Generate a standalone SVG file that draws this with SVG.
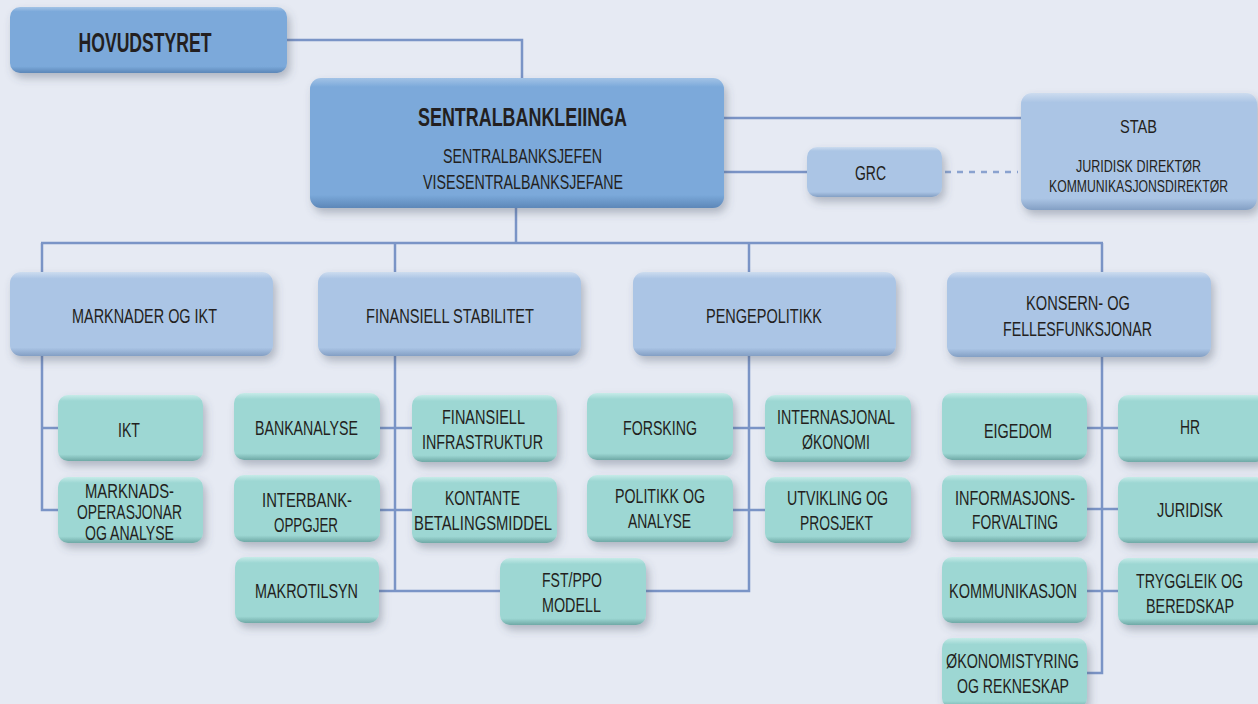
<svg xmlns="http://www.w3.org/2000/svg" width="1258" height="704" viewBox="0 0 1258 704">
<defs>
<linearGradient id="gMb" x1="0" y1="0" x2="0" y2="1">
<stop offset="0" stop-color="#a3c3e6"/><stop offset="0.07" stop-color="#7ba9da"/><stop offset="0.9" stop-color="#7ba9da"/><stop offset="1" stop-color="#5d87b8"/>
</linearGradient>
<linearGradient id="gLb" x1="0" y1="0" x2="0" y2="1">
<stop offset="0" stop-color="#cddcef"/><stop offset="0.08" stop-color="#abc5e5"/><stop offset="0.9" stop-color="#abc5e5"/><stop offset="1" stop-color="#839fc4"/>
</linearGradient>
<linearGradient id="gTl" x1="0" y1="0" x2="0" y2="1">
<stop offset="0" stop-color="#c6ebe8"/><stop offset="0.09" stop-color="#9dd7d3"/><stop offset="0.9" stop-color="#9dd7d3"/><stop offset="1" stop-color="#6fa9a6"/>
</linearGradient>
<filter id="sh" x="-10%" y="-20%" width="125%" height="150%">
<feDropShadow dx="3" dy="5" stdDeviation="4" flood-color="#4a5468" flood-opacity="0.35"/>
</filter>
</defs>
<style>
.mb{fill:url(#gMb);filter:url(#sh)}
.lb{fill:url(#gLb);filter:url(#sh)}
.tl{fill:url(#gTl);filter:url(#sh)}
text{font-family:"Liberation Sans Narrow","Liberation Sans",Arial,sans-serif;fill:#231f20;text-anchor:middle}
.b{font-weight:bold}
.c line,.c polyline{stroke:#7a94c6;stroke-width:2.5;fill:none}
.c .d{stroke:#8aa2cf;stroke-dasharray:6 6}
</style>
<rect width="1258" height="704" fill="#e6eaf3"/>

<g class="c" id="connectors">
<polyline points="287,40 522,40 522,78"/>
<line x1="724" y1="118" x2="1021" y2="118"/>
<line x1="724" y1="172" x2="807" y2="172"/>
<line class="d" x1="945" y1="172" x2="1018" y2="172"/>
<line x1="516" y1="208" x2="516" y2="243"/>
<line x1="41" y1="243" x2="1103" y2="243"/>
<line x1="42" y1="243" x2="42" y2="272"/>
<line x1="395" y1="243" x2="395" y2="272"/>
<line x1="749" y1="243" x2="749" y2="272"/>
<line x1="1102" y1="243" x2="1102" y2="272"/>
<polyline points="42,356 42,510 58,510"/>
<line x1="42" y1="428" x2="58" y2="428"/>
<line x1="395" y1="356" x2="395" y2="591"/>
<line x1="380" y1="428" x2="412" y2="428"/>
<line x1="380" y1="510" x2="412" y2="510"/>
<line x1="379" y1="591" x2="500" y2="591"/>
<polyline points="749,356 749,591 646,591"/>
<line x1="733" y1="428" x2="765" y2="428"/>
<line x1="733" y1="510" x2="765" y2="510"/>
<polyline points="1102,357 1102,673 1087,673"/>
<line x1="1087" y1="428" x2="1118" y2="428"/>
<line x1="1087" y1="509" x2="1118" y2="509"/>
<line x1="1087" y1="591" x2="1118" y2="591"/>
</g>

<g id="hovudstyret"><rect class="mb" x="10" y="7" width="277" height="66" rx="10"/>
<text class="b" x="145" y="52" font-size="27" textLength="133" lengthAdjust="spacingAndGlyphs">HOVUDSTYRET</text></g>

<g id="sentralbankleiinga"><rect class="mb" x="310" y="78" width="414" height="130" rx="11"/>
<text class="b" x="522.5" y="126" font-size="25" textLength="209" lengthAdjust="spacingAndGlyphs">SENTRALBANKLEIINGA</text>
<text x="522.5" y="163" font-size="21" textLength="159" lengthAdjust="spacingAndGlyphs">SENTRALBANKSJEFEN</text>
<text x="523" y="189" font-size="21" textLength="200" lengthAdjust="spacingAndGlyphs">VISESENTRALBANKSJEFANE</text></g>

<g id="grc"><rect class="lb" x="807" y="147" width="135" height="50" rx="10"/>
<text x="870.5" y="180" font-size="20" textLength="31" lengthAdjust="spacingAndGlyphs">GRC</text></g>

<g id="stab"><rect class="lb" x="1021" y="93" width="236" height="117" rx="11"/>
<text x="1138.5" y="133" font-size="19" textLength="37" lengthAdjust="spacingAndGlyphs">STAB</text>
<text x="1138.5" y="172" font-size="16" textLength="125" lengthAdjust="spacingAndGlyphs">JURIDISK DIREKTØR</text>
<text x="1138.5" y="192" font-size="16" textLength="179" lengthAdjust="spacingAndGlyphs">KOMMUNIKASJONSDIREKTØR</text></g>

<g id="marknader"><rect class="lb" x="10" y="272" width="263" height="84" rx="11"/>
<text x="144.5" y="323" font-size="21" textLength="145" lengthAdjust="spacingAndGlyphs">MARKNADER OG IKT</text></g>
<g id="finansiell-stabilitet"><rect class="lb" x="318" y="272" width="263" height="84" rx="11"/>
<text x="450" y="323" font-size="21" textLength="168" lengthAdjust="spacingAndGlyphs">FINANSIELL STABILITET</text></g>
<g id="pengepolitikk"><rect class="lb" x="633" y="272" width="263" height="84" rx="11"/>
<text x="764" y="323" font-size="21" textLength="116" lengthAdjust="spacingAndGlyphs">PENGEPOLITIKK</text></g>
<g id="konsern"><rect class="lb" x="947" y="272" width="264" height="85" rx="11"/>
<text x="1078" y="310" font-size="21" textLength="104" lengthAdjust="spacingAndGlyphs">KONSERN- OG</text>
<text x="1077.5" y="336" font-size="21" textLength="149" lengthAdjust="spacingAndGlyphs">FELLESFUNKSJONAR</text></g>

<g id="ikt"><rect class="tl" x="58" y="395" width="145" height="66" rx="10"/>
<text x="129" y="437" font-size="20" textLength="22" lengthAdjust="spacingAndGlyphs">IKT</text></g>
<g id="marknadsoperasjonar"><rect class="tl" x="58" y="477" width="145" height="66" rx="10"/>
<text x="129.5" y="498" font-size="20" textLength="89" lengthAdjust="spacingAndGlyphs">MARKNADS-</text>
<text x="129.5" y="519" font-size="20" textLength="105" lengthAdjust="spacingAndGlyphs">OPERASJONAR</text>
<text x="129.5" y="540" font-size="20" textLength="89" lengthAdjust="spacingAndGlyphs">OG ANALYSE</text></g>

<g id="bankanalyse"><rect class="tl" x="234" y="393" width="146" height="67" rx="10"/>
<text x="306.5" y="435" font-size="20" textLength="103" lengthAdjust="spacingAndGlyphs">BANKANALYSE</text></g>
<g id="interbank"><rect class="tl" x="234" y="475" width="146" height="67" rx="10"/>
<text x="307" y="507" font-size="20" textLength="90" lengthAdjust="spacingAndGlyphs">INTERBANK-</text>
<text x="306" y="532" font-size="20" textLength="64" lengthAdjust="spacingAndGlyphs">OPPGJER</text></g>
<g id="makrotilsyn"><rect class="tl" x="235" y="557" width="144" height="66" rx="10"/>
<text x="306.5" y="598" font-size="20" textLength="103" lengthAdjust="spacingAndGlyphs">MAKROTILSYN</text></g>
<g id="finansiell-infrastruktur"><rect class="tl" x="412" y="395" width="145" height="67" rx="10"/>
<text x="483.5" y="424" font-size="20" textLength="83" lengthAdjust="spacingAndGlyphs">FINANSIELL</text>
<text x="482.5" y="449" font-size="20" textLength="121" lengthAdjust="spacingAndGlyphs">INFRASTRUKTUR</text></g>
<g id="kontante"><rect class="tl" x="412" y="477" width="145" height="66" rx="10"/>
<text x="482.5" y="505" font-size="20" textLength="75" lengthAdjust="spacingAndGlyphs">KONTANTE</text>
<text x="483" y="530" font-size="20" textLength="138" lengthAdjust="spacingAndGlyphs">BETALINGSMIDDEL</text></g>
<g id="fst-ppo"><rect class="tl" x="500" y="558" width="146" height="67" rx="10"/>
<text x="572" y="587" font-size="20" textLength="60" lengthAdjust="spacingAndGlyphs">FST/PPO</text>
<text x="571.5" y="612" font-size="20" textLength="59" lengthAdjust="spacingAndGlyphs">MODELL</text></g>

<g id="forsking"><rect class="tl" x="587" y="393" width="146" height="67" rx="10"/>
<text x="660" y="435" font-size="20" textLength="74" lengthAdjust="spacingAndGlyphs">FORSKING</text></g>
<g id="politikk"><rect class="tl" x="587" y="475" width="146" height="67" rx="10"/>
<text x="660" y="503" font-size="20" textLength="90" lengthAdjust="spacingAndGlyphs">POLITIKK OG</text>
<text x="659.5" y="528" font-size="20" textLength="63" lengthAdjust="spacingAndGlyphs">ANALYSE</text></g>
<g id="internasjonal"><rect class="tl" x="765" y="395" width="146" height="67" rx="10"/>
<text x="836" y="424" font-size="20" textLength="118" lengthAdjust="spacingAndGlyphs">INTERNASJONAL</text>
<text x="836" y="449" font-size="20" textLength="68" lengthAdjust="spacingAndGlyphs">ØKONOMI</text></g>
<g id="utvikling"><rect class="tl" x="765" y="477" width="146" height="66" rx="10"/>
<text x="837.5" y="505" font-size="20" textLength="101" lengthAdjust="spacingAndGlyphs">UTVIKLING OG</text>
<text x="836.5" y="530" font-size="20" textLength="73" lengthAdjust="spacingAndGlyphs">PROSJEKT</text></g>

<g id="eigedom"><rect class="tl" x="942" y="393" width="145" height="67" rx="10"/>
<text x="1018" y="438" font-size="20" textLength="68" lengthAdjust="spacingAndGlyphs">EIGEDOM</text></g>
<g id="hr"><rect class="tl" x="1118" y="395" width="148" height="67" rx="10"/>
<text x="1190" y="434" font-size="20" textLength="20" lengthAdjust="spacingAndGlyphs">HR</text></g>
<g id="informasjonsforvalting"><rect class="tl" x="942" y="475" width="145" height="67" rx="10"/>
<text x="1015" y="505" font-size="20" textLength="120" lengthAdjust="spacingAndGlyphs">INFORMASJONS-</text>
<text x="1015" y="529" font-size="20" textLength="86" lengthAdjust="spacingAndGlyphs">FORVALTING</text></g>
<g id="juridisk"><rect class="tl" x="1118" y="477" width="148" height="66" rx="10"/>
<text x="1190" y="517" font-size="20" textLength="66" lengthAdjust="spacingAndGlyphs">JURIDISK</text></g>
<g id="kommunikasjon"><rect class="tl" x="942" y="557" width="145" height="66" rx="10"/>
<text x="1013" y="598" font-size="20" textLength="128" lengthAdjust="spacingAndGlyphs">KOMMUNIKASJON</text></g>
<g id="tryggleik"><rect class="tl" x="1118" y="558" width="148" height="67" rx="10"/>
<text x="1189.5" y="588" font-size="20" textLength="107" lengthAdjust="spacingAndGlyphs">TRYGGLEIK OG</text>
<text x="1190" y="613" font-size="20" textLength="88" lengthAdjust="spacingAndGlyphs">BEREDSKAP</text></g>
<g id="okonomistyring"><rect class="tl" x="942" y="638" width="145" height="70" rx="10"/>
<text x="1012.5" y="668" font-size="20" textLength="133" lengthAdjust="spacingAndGlyphs">ØKONOMISTYRING</text>
<text x="1013" y="693" font-size="20" textLength="112" lengthAdjust="spacingAndGlyphs">OG REKNESKAP</text></g>
</svg>
